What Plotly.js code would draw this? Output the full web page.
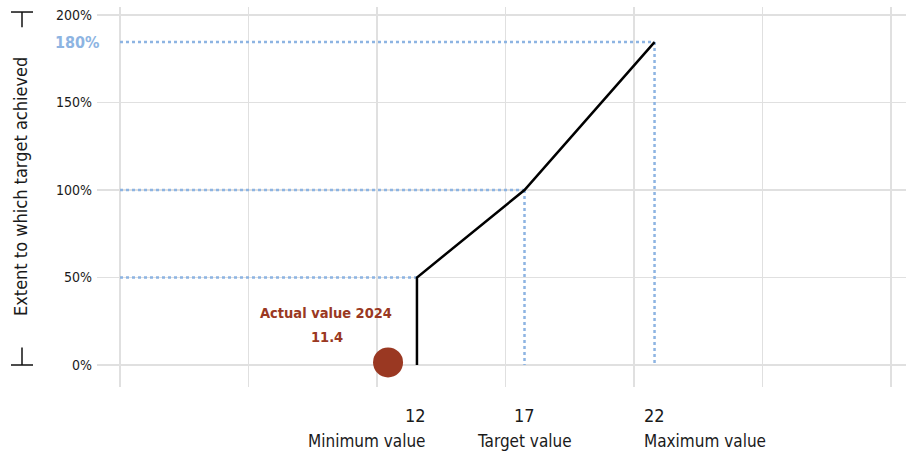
<!DOCTYPE html>
<html>
<head>
<meta charset="utf-8">
<script src="https://cdn.plot.ly/plotly-3.0.1.min.js"></script>
<style>html,body{margin:0;padding:0;background:#fff;}#chart{width:906px;height:455px;}</style>
</head>
<body>
<div id="chart"></div>
<script>
// ---- data ----
const levelNames = ['Minimum value', 'Target value', 'Maximum value'];
const levelValues = [12, 17, 22];
const levelAchievementLabel = [50, 100, 180];      // % target achieved, as labelled
const levelAchievement = [50, 100, 184.5];
const levelPosition = [2.311, 3.148, 4.160];       // position on the schematic x scale
const actualLabel = 'Actual value 2024';
const actualValue = 11.4;
const actualAchievement = 1.5;
const actualPosition = 2.086;
const yTickVals = [0, 50, 100, 150, 200];
const yTickText = ['0%', '50%', '100%', '150%', '200%'];
const yTitle = 'Extent to which target achieved';

// ---- styles ----
const FONT = "'DejaVu Sans Condensed', 'Liberation Sans Narrow', Roboto, sans-serif";
const GRID = '#e0e0e0';
const BLUE = '#8db4e2';
const RUST = '#9a3822';
const TEXT = '#1a1a1a';

const traces = [];
// dotted guide lines (horizontal) for each level
levelPosition.forEach((p, i) => {
  traces.push({x: [0, p], y: [levelAchievement[i], levelAchievement[i]], mode: 'lines',
    line: {color: BLUE, width: 2.5, dash: 'dot'}, hoverinfo: 'skip', showlegend: false});
});
// dotted vertical guide lines for target and maximum
[1, 2].forEach(i => {
  traces.push({x: [levelPosition[i], levelPosition[i]], y: [levelAchievement[i], 0], mode: 'lines',
    line: {color: BLUE, width: 2.5, dash: 'dot'}, hoverinfo: 'skip', showlegend: false});
});
// achievement curve
traces.push({
  x: [levelPosition[0]].concat(levelPosition),
  y: [0].concat(levelAchievement),
  mode: 'lines', line: {color: '#000', width: 2.5}, showlegend: false
});
// actual value
traces.push({x: [actualPosition], y: [actualAchievement], mode: 'markers',
  marker: {color: RUST, size: 30}, showlegend: false});

const annotations = [];
const anchors = ['right', 'center', 'left'];
const shifts = [11, 0, -13];
levelPosition.forEach((p, i) => {
  annotations.push({x: p, xref: 'x', y: 0, yref: 'paper', text: String(levelValues[i]),
    xanchor: anchors[i], yanchor: 'middle', xshift: shifts[i], yshift: -28, showarrow: false,
    font: {family: FONT, size: 18, color: TEXT}});
  annotations.push({x: p, xref: 'x', y: 0, yref: 'paper', text: levelNames[i],
    xanchor: anchors[i], yanchor: 'middle', xshift: shifts[i], yshift: -54, showarrow: false,
    font: {family: FONT, size: 17, color: TEXT}});
});
annotations.push({x: actualPosition, xref: 'x', y: 0, yref: 'y', text: '<b>' + actualLabel + '</b>',
  xanchor: 'center', yanchor: 'middle', xshift: -62, yshift: 52, showarrow: false,
  font: {family: FONT, size: 14.5, color: RUST}});
annotations.push({x: actualPosition, xref: 'x', y: 0, yref: 'y', text: '<b>' + actualValue.toFixed(1) + '</b>',
  xanchor: 'center', yanchor: 'middle', xshift: -61, yshift: 28, showarrow: false,
  font: {family: FONT, size: 14.5, color: RUST}});
annotations.push({x: 0, xref: 'paper', y: levelAchievement[2], yref: 'y', text: '<b>' + levelAchievementLabel[2] + '%</b>',
  xanchor: 'right', yanchor: 'middle', xshift: 4, showarrow: false,
  font: {family: FONT, size: 16, color: BLUE}});
annotations.push({x: 0, xref: 'paper', y: 101.7, yref: 'y', text: yTitle, textangle: -90,
  xanchor: 'center', yanchor: 'middle', xshift: -77, showarrow: false,
  font: {family: FONT, size: 18, color: TEXT}});

const shapes = [
  {type: 'line', xref: 'paper', xsizemode: 'pixel', xanchor: 0, x0: -86, x1: -64, yref: 'y', y0: 201.7, y1: 201.7, line: {color: '#111', width: 1.5}},
  {type: 'line', xref: 'paper', xsizemode: 'pixel', xanchor: 0, x0: -75, x1: -75, yref: 'y', y0: 201.7, y1: 193, line: {color: '#111', width: 1.5}},
  {type: 'line', xref: 'paper', xsizemode: 'pixel', xanchor: 0, x0: -86, x1: -64, yref: 'y', y0: 0, y1: 0, line: {color: '#111', width: 1.5}},
  {type: 'line', xref: 'paper', xsizemode: 'pixel', xanchor: 0, x0: -75, x1: -75, yref: 'y', y0: 0, y1: 10, line: {color: '#111', width: 1.5}}
];

const layout = {
  width: 906, height: 455,
  margin: {l: 97, r: 0, t: 7, b: 68, pad: 0},
  paper_bgcolor: '#fff', plot_bgcolor: '#fff',
  font: {family: FONT, color: TEXT},
  showlegend: false,
  xaxis: {range: [-0.179, 6.117], tick0: 0, dtick: 1, showgrid: true, gridcolor: GRID, gridwidth: 1.5,
    showticklabels: false, zeroline: false, showline: false, ticks: '', fixedrange: true},
  yaxis: {range: [-12.57, 204.57], tickvals: yTickVals, ticktext: yTickText, showgrid: true, gridcolor: GRID,
    gridwidth: 1.5, zeroline: false, showline: false, ticks: '', ticklabelstandoff: 4,
    tickfont: {family: FONT, size: 14, color: TEXT}, fixedrange: true},
  annotations: annotations,
  shapes: shapes
};

Plotly.newPlot('chart', traces, layout, {displayModeBar: false, staticPlot: true});
</script>
</body>
</html>
